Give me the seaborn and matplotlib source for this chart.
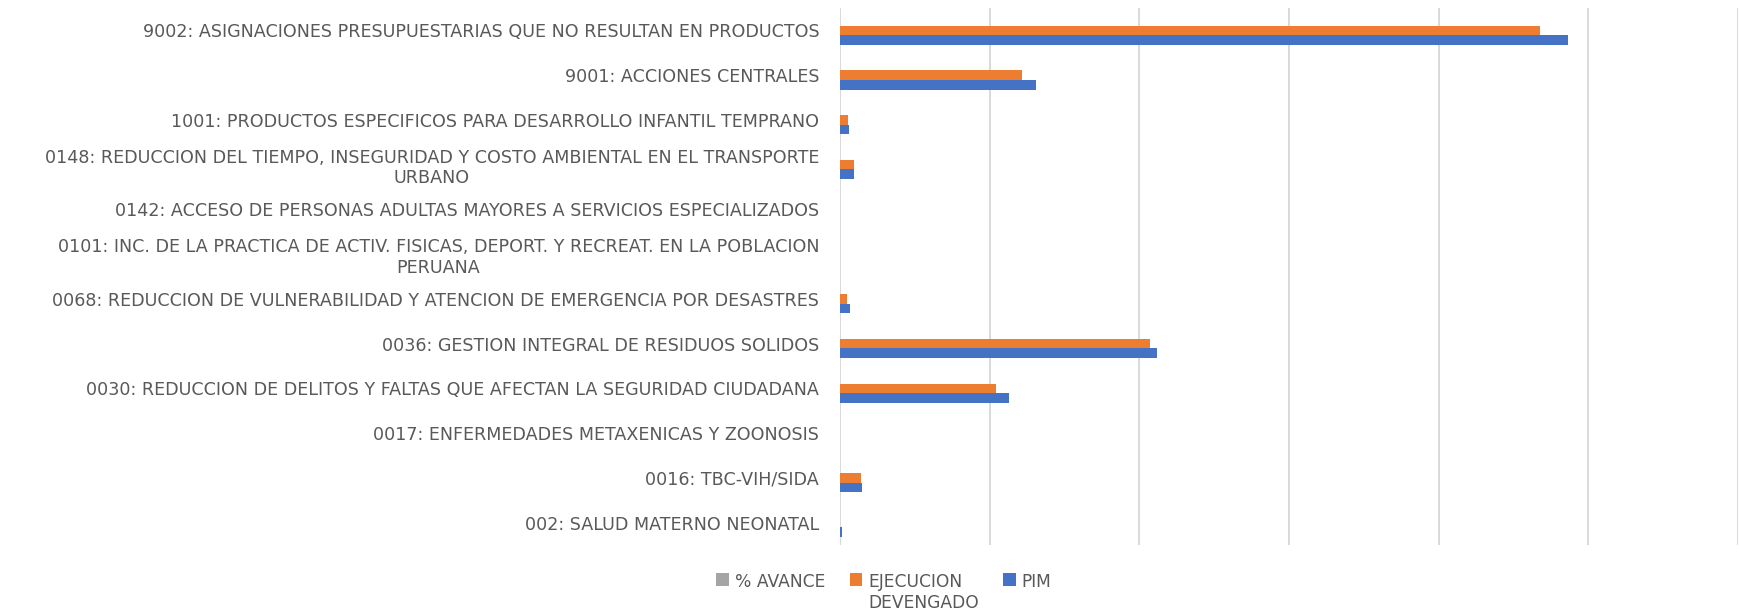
import pandas as pd
import seaborn as sns
import matplotlib.pyplot as plt

# --- dati (soles) ---
programas = [
    "9002: ASIGNACIONES PRESUPUESTARIAS QUE NO RESULTAN EN PRODUCTOS",
    "9001: ACCIONES CENTRALES",
    "1001: PRODUCTOS ESPECIFICOS PARA DESARROLLO INFANTIL TEMPRANO",
    "0148: REDUCCION DEL TIEMPO, INSEGURIDAD Y COSTO AMBIENTAL EN EL TRANSPORTE\nURBANO",
    "0142: ACCESO DE PERSONAS ADULTAS MAYORES A SERVICIOS ESPECIALIZADOS",
    "0101: INC. DE LA PRACTICA DE ACTIV. FISICAS, DEPORT. Y RECREAT. EN LA POBLACION\nPERUANA",
    "0068: REDUCCION DE VULNERABILIDAD Y ATENCION DE EMERGENCIA POR DESASTRES",
    "0036: GESTION INTEGRAL DE RESIDUOS SOLIDOS",
    "0030: REDUCCION DE DELITOS Y FALTAS QUE AFECTAN LA SEGURIDAD CIUDADANA",
    "0017: ENFERMEDADES METAXENICAS Y ZOONOSIS",
    "0016: TBC-VIH/SIDA",
    "002: SALUD MATERNO NEONATAL",
]
pim = [48640000, 13070000, 620000, 950000, 0, 0, 700000, 21200000, 11300000, 0, 1450000, 130000]
ejecucion = [46780000, 12180000, 530000, 940000, 0, 0, 450000, 20700000, 10400000, 0, 1400000, 0]
avance = [0.96, 0.93, 0.85, 0.99, 0, 0, 0.64, 0.98, 0.92, 0, 0.97, 0]

serie = ["% AVANCE", "EJECUCION\nDEVENGADO", "PIM"]
colori = ["#A5A5A5", "#ED7D31", "#4472C4"]

df = pd.DataFrame({
    "programa": programas * 3,
    "serie": [serie[0]] * 12 + [serie[1]] * 12 + [serie[2]] * 12,
    "valore": avance + ejecucion + pim,
})

sns.set_style("white")
plt.rcParams["font.family"] = ["DejaVu Sans"]

fig = plt.figure(figsize=(17.4, 6.14), dpi=100)
ax = fig.add_axes([840 / 1740, 1 - 545 / 614, 898 / 1740, 537 / 614])

sns.barplot(data=df, y="programa", x="valore", hue="serie", hue_order=serie,
            order=programas, palette=colori, saturation=1, width=0.65,
            linewidth=0, orient="h", ax=ax, zorder=3)

ax.set_xlim(0, 60000000)
ax.set_xticks(range(0, 60000001, 10000000))
ax.xaxis.grid(True, color="#D9D9D9", linewidth=1.4, zorder=0)
ax.yaxis.grid(False)
ax.set_xticklabels([])
ax.set_xlabel("")
ax.set_ylabel("")
ax.tick_params(axis="both", length=0)
ax.tick_params(axis="y", pad=15, labelsize=12.6, labelcolor="#595959")
for t in ax.get_yticklabels():
    t.set_multialignment("center")
for s in ax.spines.values():
    s.set_visible(False)

handles, labels = ax.get_legend_handles_labels()
ax.get_legend().remove()
leg = fig.legend(handles, labels, loc="upper center", ncol=3, frameon=False,
                 bbox_to_anchor=(884 / 1740, 1 - 563 / 614), fontsize=12.3,
                 handlelength=0.75, handleheight=0.75, handletextpad=0.35,
                 columnspacing=1.4, borderpad=0.1)
for t in leg.get_texts():
    t.set_color("#595959")
    t.set_multialignment("left")
# allinea simbolo e prima riga del testo in alto
leg._legend_handle_box.align = "top"
for col in leg._legend_handle_box.get_children():
    col.align = "top"
    for row in col.get_children():
        row.align = "top"

fig.savefig("out.png", dpi=100)
